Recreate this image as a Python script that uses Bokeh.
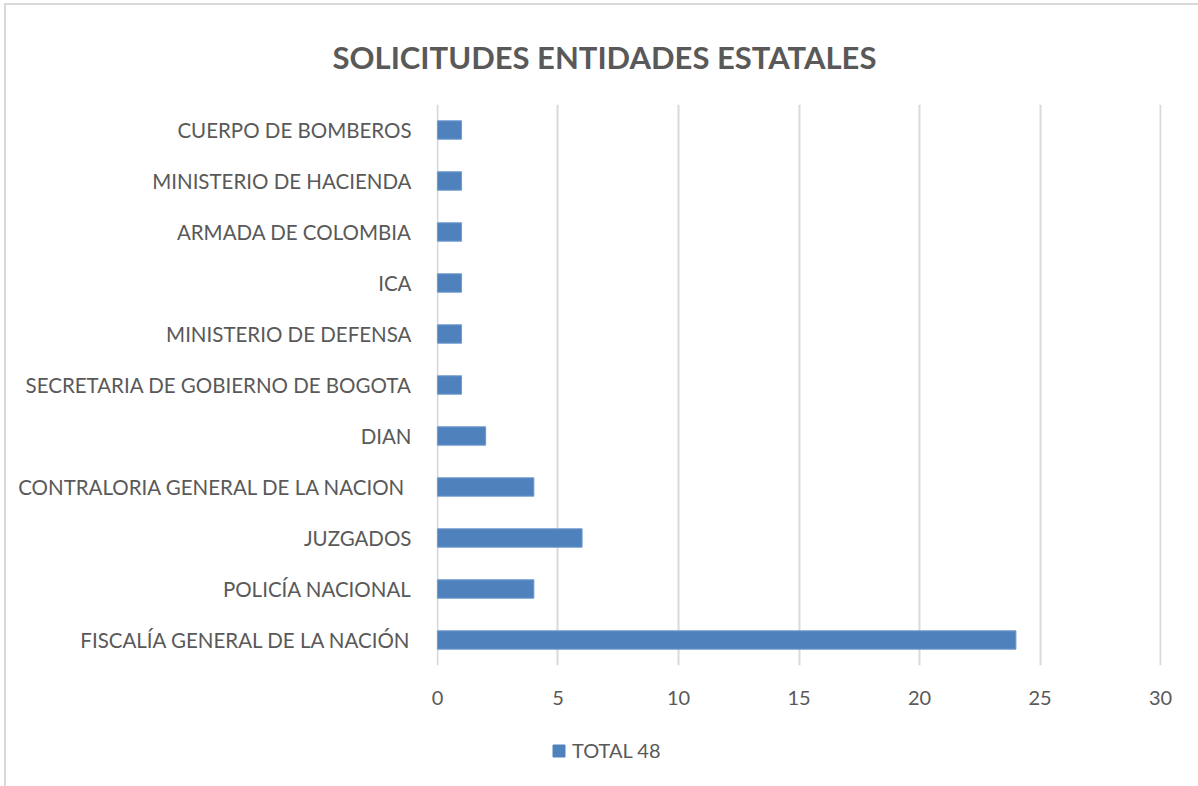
from bokeh.plotting import figure
from bokeh.layouts import column
from bokeh.models import ColumnDataSource, Legend, LegendItem, FactorRange, Title, Range1d
from bokeh.embed import file_html
from bokeh.resources import INLINE

entities = [
    "FISCALÍA GENERAL DE LA NACIÓN",
    "POLICÍA NACIONAL",
    "JUZGADOS",
    "CONTRALORIA GENERAL DE LA NACION ",
    "DIAN",
    "SECRETARIA DE GOBIERNO DE BOGOTA",
    "MINISTERIO DE DEFENSA",
    "ICA",
    "ARMADA DE COLOMBIA",
    "MINISTERIO DE HACIENDA",
    "CUERPO DE BOMBEROS",
]
totals = [24, 4, 6, 4, 2, 1, 1, 1, 1, 1, 1]
x_ticks = [0, 5, 10, 15, 20, 25, 30]
title_text = "SOLICITUDES ENTIDADES ESTATALES"
series_name = "TOTAL 48"

FONT = "Lato"
TXT = "#595959"
BAR = "#4F81BD"

OX, OY = 6, 5          # chart area border offset
W, H1, H2 = 1198 - OX, 730 - OY, 56
L, R, T, B = 436 - OX, 37, 104 - OY, 65

p = figure(
    width=W, height=H1, output_backend="svg", toolbar_location=None,
    y_range=FactorRange(*entities, range_padding=0),
    x_range=Range1d(-0.04, 30.04),
    min_border_left=L, min_border_right=R, min_border_top=T, min_border_bottom=B,
)
p.outline_line_color = None
p.background_fill_color = "white"
p.border_fill_color = "white"

src = ColumnDataSource(dict(y=entities, v=totals))
r = p.hbar(y="y", right="v", left=0, height=0.36, source=src,
           fill_color=BAR, line_color="#6F9AD0", line_width=1)

p.xaxis.ticker = x_ticks
p.xaxis.axis_line_color = None
p.xaxis.major_tick_line_color = None
p.xaxis.minor_tick_line_color = None
p.xaxis.major_label_text_font = FONT
p.xaxis.major_label_text_font_size = "20px"
p.xaxis.major_label_text_color = TXT
p.xaxis.major_label_standoff = 19

p.yaxis.axis_line_color = None
p.yaxis.major_tick_line_color = None
p.yaxis.minor_tick_line_color = None
p.yaxis.major_label_text_font = FONT
p.yaxis.major_label_text_font_size = "20.5px"
p.yaxis.major_label_text_color = TXT
p.yaxis.major_label_standoff = 19

p.ygrid.grid_line_color = None
p.xgrid.grid_line_color = "#D9D9D9"
p.xgrid.grid_line_width = 2

p.add_layout(Title(
    text=title_text, text_font=FONT, text_font_style="bold",
    text_font_size="31px", text_color=TXT, align="left",
    offset=-104, standoff=58,
), "above")

# legend strip below the chart
lg = figure(
    width=W, height=H2, output_backend="svg", toolbar_location=None,
    x_range=Range1d(0, 30), y_range=FactorRange(*entities),
    x_axis_type=None, y_axis_type=None,
    min_border_left=0, min_border_right=0, min_border_top=0, min_border_bottom=0,
)
lg.outline_line_color = None
lg.grid.visible = False
lg.background_fill_color = "white"
lg.border_fill_color = "white"
r2 = lg.hbar(y="y", right="v", left=0, height=0.36, source=src,
             fill_color=BAR, line_color=BAR, line_width=1, visible=False)

legend = Legend(
    items=[LegendItem(label=series_name, renderers=[r2], index=0)],
    location=(115, 24), orientation="horizontal",
    label_text_font=FONT, label_text_font_size="20px", label_text_color=TXT,
    glyph_width=15, glyph_height=15, border_line_color=None,
    background_fill_alpha=0, label_standoff=6, padding=4, margin=0,
    inactive_fill_alpha=0,
)
lg.add_layout(legend, "center")

layout = column(p, lg, spacing=0)
layout.styles = {
    "margin-left": "4px", "margin-top": "3px",
    "border-left": "2px solid #D9D9D9", "border-top": "2px solid #D9D9D9",
}
open("out.html", "w").write(file_html(layout, INLINE))
